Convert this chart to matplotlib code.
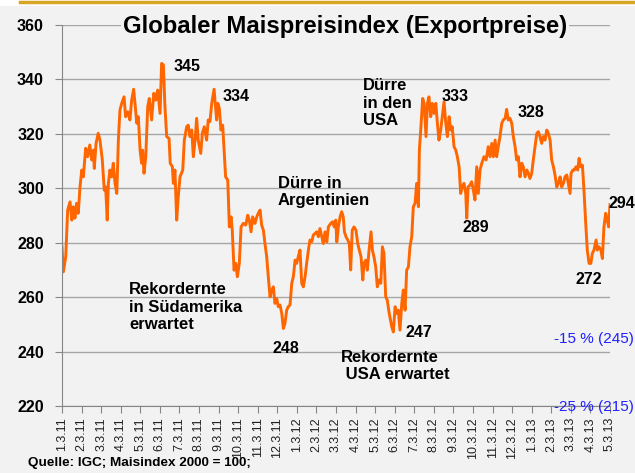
import matplotlib.pyplot as plt
from matplotlib.patches import Rectangle
from matplotlib.lines import Line2D
from matplotlib.transforms import blended_transform_factory

plt.rcParams['font.family'] = ['Liberation Sans', 'DejaVu Sans']

# x = months since the first tick (0 = "1.3.11"), y = maize price index (2000 = 100)
monat = [
    0.00, 0.07, 0.19, 0.29, 0.41, 0.50, 0.58, 0.66, 0.75, 0.83,
    0.92, 1.01, 1.09, 1.21, 1.31, 1.42, 1.52, 1.60, 1.65, 1.74,
    1.85, 1.94, 2.06, 2.16, 2.23, 2.31, 2.37, 2.45, 2.54, 2.62,
    2.71, 2.80, 2.88, 2.96, 3.05, 3.17, 3.25, 3.36, 3.47, 3.56,
    3.66, 3.73, 3.82, 3.90, 3.99, 4.07, 4.12, 4.19, 4.28, 4.38,
    4.46, 4.58, 4.69, 4.79, 4.89, 5.01, 5.09, 5.18, 5.26, 5.35,
    5.47, 5.53, 5.64, 5.69, 5.77, 5.86, 5.94, 6.03, 6.17, 6.25,
    6.37, 6.45, 6.54, 6.63, 6.71, 6.80, 6.88, 6.96, 7.09, 7.17,
    7.27, 7.39, 7.47, 7.56, 7.65, 7.77, 7.83, 7.90, 7.96, 8.04,
    8.12, 8.21, 8.28, 8.36, 8.47, 8.55, 8.64, 8.70, 8.79, 8.88,
    8.96, 9.06, 9.15, 9.26, 9.39, 9.49, 9.57, 9.66, 9.74, 9.86,
    9.95, 10.03, 10.12, 10.20, 10.29, 10.37, 10.46, 10.54, 10.63, 10.72,
    10.80, 10.88, 10.97, 11.05, 11.14, 11.23, 11.31, 11.39, 11.48, 11.56,
    11.65, 11.74, 11.82, 11.91, 11.99, 12.07, 12.16, 12.25, 12.33, 12.42,
    12.50, 12.59, 12.67, 12.76, 12.84, 12.93, 13.01, 13.10, 13.18, 13.27,
    13.35, 13.44, 13.53, 13.61, 13.73, 13.83, 13.91, 13.99, 14.04, 14.12,
    14.21, 14.29, 14.37, 14.43, 14.51, 14.60, 14.68, 14.75, 14.83, 14.92,
    15.02, 15.11, 15.19, 15.28, 15.37, 15.43, 15.52, 15.60, 15.69, 15.79,
    15.86, 15.94, 16.03, 16.11, 16.21, 16.29, 16.37, 16.45, 16.54, 16.62,
    16.72, 16.85, 16.93, 17.02, 17.10, 17.18, 17.27, 17.36, 17.44, 17.53,
    17.61, 17.70, 17.78, 17.87, 17.95, 18.04, 18.12, 18.21, 18.26, 18.34,
    18.43, 18.50, 18.60, 18.67, 18.75, 18.84, 18.92, 19.01, 19.10, 19.18,
    19.26, 19.35, 19.43, 19.52, 19.61, 19.69, 19.78, 19.86, 19.94, 20.03,
    20.12, 20.20, 20.29, 20.37, 20.45, 20.54, 20.63, 20.68, 20.75, 20.85,
    20.93, 21.02, 21.10, 21.19, 21.27, 21.36, 21.45, 21.56, 21.67, 21.78,
    21.87, 21.96, 22.04, 22.13, 22.21, 22.29, 22.38, 22.47, 22.55, 22.64,
    22.72, 22.80, 22.89, 22.98, 23.06, 23.15, 23.23, 23.32, 23.40, 23.49,
    23.57, 23.66, 23.75, 23.83, 23.91, 24.00, 24.08, 24.17, 24.26, 24.34,
    24.42, 24.51, 24.59, 24.68, 24.77, 24.85, 24.94, 25.02, 25.11, 25.19,
    25.28, 25.36, 25.45, 25.53, 25.62, 25.70, 25.79, 25.87, 25.96, 26.01,
    26.10, 26.18, 26.26, 26.35, 26.42, 26.50, 26.59, 26.67, 26.76, 26.84,
    26.93, 27.02, 27.10, 27.18, 27.29, 27.35, 27.44, 27.53, 27.61, 27.69,
    27.78, 27.86, 27.93, 28.00,
]
index = [
    278.5, 269.3, 274.8, 292.0, 295.0, 288.3, 293.2, 289.0, 294.5, 290.8,
    300.5, 306.7, 304.2, 314.7, 311.6, 315.9, 310.4, 314.0, 307.3, 316.5,
    320.2, 317.7, 310.4, 299.3, 300.5, 288.3, 301.8, 306.7, 304.2, 309.2,
    301.8, 298.1, 317.7, 328.7, 331.2, 333.6, 326.3, 328.1, 325.1, 332.4,
    336.4, 331.2, 323.9, 326.3, 314.0, 309.2, 314.0, 305.5, 311.6, 330.0,
    333.0, 325.1, 334.9, 332.4, 336.1, 327.5, 345.9, 345.3, 330.0, 319.0,
    318.3, 309.2, 307.9, 301.8, 306.7, 288.3, 296.9, 304.2, 306.7, 317.7,
    322.6, 323.2, 319.0, 321.4, 311.6, 317.7, 325.7, 317.7, 312.8, 320.2,
    322.6, 317.7, 325.1, 324.5, 331.2, 336.4, 331.2, 325.1, 331.2, 329.4,
    321.4, 323.2, 314.0, 304.2, 303.0, 285.8, 289.5, 284.6, 269.9, 272.4,
    267.5, 272.4, 285.8, 287.1, 286.5, 290.1, 288.3, 284.0, 289.5, 287.1,
    289.5, 290.8, 292.0, 286.5, 284.6, 279.7, 274.8, 267.5, 260.1, 262.6,
    263.8, 257.7, 259.5, 256.5, 257.1, 254.0, 248.5, 250.3, 255.2, 256.5,
    257.1, 265.1, 267.5, 273.6, 272.4, 274.8, 277.3, 265.1, 263.8, 267.5,
    272.4, 277.3, 281.0, 280.3, 282.8, 283.4, 284.0, 282.2, 285.2, 282.2,
    279.7, 284.0, 280.3, 285.8, 287.1, 287.7, 285.8, 288.3, 280.3, 285.8,
    289.5, 291.4, 289.5, 284.0, 282.2, 281.0, 279.7, 270.0, 284.6, 285.8,
    284.6, 279.7, 277.3, 274.8, 266.3, 272.4, 273.6, 269.9, 277.3, 284.0,
    277.3, 274.8, 271.1, 263.8, 266.3, 265.1, 278.5, 276.1, 260.1, 258.9,
    254.0, 249.1, 247.2, 256.5, 254.0, 255.2, 247.9, 257.7, 262.6, 255.2,
    269.9, 271.1, 278.5, 282.2, 293.2, 294.5, 301.8, 293.2, 314.0, 322.6,
    333.0, 331.2, 319.0, 331.2, 333.6, 326.3, 331.2, 327.5, 331.2, 323.9,
    317.7, 321.4, 326.3, 331.8, 323.9, 319.0, 326.3, 321.4, 322.6, 315.3,
    314.0, 311.6, 307.9, 298.1, 300.5, 301.8, 298.1, 289.0, 300.5, 301.2,
    302.4, 299.3, 295.7, 307.9, 298.1, 306.7, 309.2, 311.6, 310.4, 315.3,
    311.6, 316.5, 311.6, 317.7, 311.6, 315.3, 319.0, 323.9, 325.1, 325.7,
    329.0, 325.1, 325.7, 323.9, 319.0, 315.3, 310.4, 311.6, 304.2, 309.2,
    307.9, 304.2, 306.7, 305.5, 303.6, 305.5, 310.4, 315.3, 320.2, 320.8,
    319.0, 316.5, 319.0, 317.7, 321.4, 320.2, 317.7, 310.4, 307.9, 304.9,
    300.5, 301.8, 304.2, 300.5, 301.8, 304.2, 304.9, 301.8, 298.1, 305.5,
    306.7, 306.7, 307.9, 306.7, 311.0, 307.9, 308.5, 299.3, 287.1, 277.3,
    272.4, 272.4, 276.1, 277.3, 281.0, 277.3, 278.5, 277.3, 274.2, 285.8,
    290.8, 288.3, 285.8, 294.0,
]

# tick labels as they appear on the original axis
tick_labels = ([f"{m}.3.11" for m in range(1, 13)] +
               [f"{m}.3.12" for m in range(1, 13)] +
               [f"{m}.3.13" for m in range(1, 6)])

bg = '#f2f2f2'
fig = plt.figure(figsize=(6.35, 4.73), dpi=100, facecolor=bg)
ax = fig.add_axes([62/635, 1-406/473, 548/635, 381/473])
ax.set_facecolor(bg)

ax.plot(monat, index, color='#ff6600', lw=2.1, solid_joinstyle='round')

ax.set_xlim(0, 28)
ax.set_ylim(220, 360)
ax.set_yticks(range(220, 361, 20))
ax.grid(axis='y', color='#a6a6a6', lw=1)
ax.set_axisbelow(True)
for s in ['top', 'right']:
    ax.spines[s].set_visible(False)
for s in ['left', 'bottom']:
    ax.spines[s].set_color('#868686')
ax.tick_params(axis='y', length=5, color='#868686', pad=8, labelsize=11.5)
for lab in ax.get_yticklabels():
    lab.set_fontweight('bold')
ax.set_xticks(range(len(tick_labels)))
ax.set_xticklabels(tick_labels, rotation=90, fontsize=9, color='#202020')
ax.tick_params(axis='x', length=5, color='#868686', pad=3)

# title
fig.text(345/635, 1-33.5/473, 'Globaler Maispreisindex (Exportpreise)',
         ha='center', va='baseline', fontsize=17.2, fontweight='bold',
         bbox=dict(facecolor=bg, edgecolor='none', pad=1))

# annotations
num = dict(fontsize=11.5, fontweight='bold', va='center', ha='left')
txt = dict(fontsize=12, fontweight='bold', va='center', ha='left')
ax.text(5.72, 344.6, '345', **num)
ax.text(8.23, 333.9, '334', **num)
ax.text(3.42, 256.3, 'Rekordernte\nin Südamerika\nerwartet', **txt)
ax.text(10.78, 241.3, '248', **num)
ax.text(11.02, 298.6, 'Dürre in\nArgentinien', **txt)
ax.text(17.53, 247.1, '247', **num)
ax.text(14.26, 234.6, 'Rekordernte\n USA erwartet', **txt)
ax.text(15.36, 331.3, 'Dürre\nin den\nUSA', **txt)
ax.text(19.37, 333.6, '333', **num)
ax.text(20.47, 285.6, '289', **num)
ax.text(23.29, 327.9, '328', **num)
ax.text(26.26, 266.3, '272', **num)
ax.text(27.92, 294.4, '294', clip_on=False, **num)

# blue reference levels on the right
tr = blended_transform_factory(fig.transFigure, ax.transData)
ax.text(0.998, 244.5, '-15 % (245)', transform=tr, ha='right', va='center',
        fontsize=11, color='#2020ff', clip_on=False)
ax.text(0.998, 219.6, '-25 % (215)', transform=tr, ha='right', va='center',
        fontsize=11, color='#2020ff', clip_on=False)

# source
fig.text(28/635, 1-463/473, 'Quelle: IGC; Maisindex 2000 = 100;',
         ha='left', va='center', fontsize=9.7, fontweight='bold')

# white strip and gold line on top
fig.patches.append(Rectangle((0, 1-6/473), 1, 6/473, transform=fig.transFigure,
                             facecolor='white', edgecolor='none'))
fig.lines.append(Line2D([20/635, 1], [1-1.8/473, 1-1.8/473], transform=fig.transFigure,
                        color='#d9a526', lw=2.5))

plt.savefig('out.png', dpi=100, facecolor=bg)
